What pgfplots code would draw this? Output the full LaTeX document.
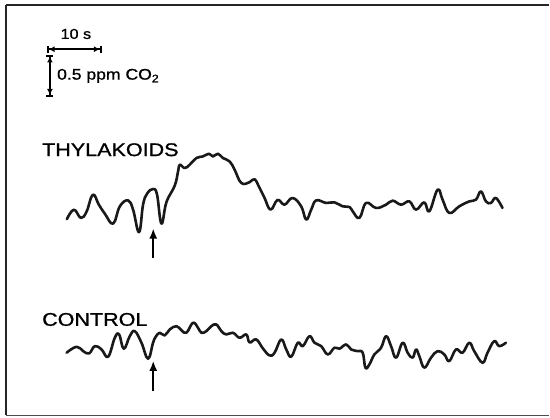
\documentclass[border=0pt]{standalone}
\usepackage{fontspec}
\setmainfont{Liberation Sans}
\newfontfamily\labelfont{Liberation Sans}[BoldFont={Liberation Sans}, BoldFeatures={FakeBold=0.9}]
\usepackage{pgfplots}
\pgfplotsset{compat=1.18}
\usetikzlibrary{arrows.meta}
\begin{document}
\begin{tikzpicture}
\begin{axis}[
  width=544bp, height=411bp, scale only axis,
  xmin=6, xmax=550, ymin=-416, ymax=-5,
  hide axis,
  clip=false,
]
\path (axis cs:0,-418) rectangle (axis cs:550,0);
\draw[line width=1.8bp, black!85] (axis cs:550,-5) -- (axis cs:6,-5);
\draw[line width=1.8bp, black!85] (axis cs:6,-5) -- (axis cs:6,-416);
\draw[line width=1.2bp, black!70] (axis cs:6,-416) -- (axis cs:550,-416);
% THYLAKOIDS
\addplot[no marks, line width=2.6bp, black!90, line join=round, line cap=round, smooth, tension=0.7] coordinates {
(67,-219.5) (74,-210) (81,-218.3) (86.7,-212) (93,-195) (99,-205) (105,-214)
(113.3,-224) (120,-206.7) (128.3,-200.7) (133.3,-210) (139.3,-232.5) (143.3,-205)
(147.3,-194) (153.3,-189.3) (157.3,-195) (161.7,-224) (166.7,-202.5) (175,-186)
(178.3,-172) (180,-165) (185,-168.3) (190,-165) (196.7,-158.3) (203.3,-156.7)
(209.3,-154) (213.3,-156.7) (218.3,-154) (223.3,-158.3) (230,-161.7) (235,-170)
(241.7,-183.3) (250,-182.5) (255,-179.5) (260,-188.3) (265,-198.3) (271,-210)
(278,-200.3) (285,-205) (293,-198.3) (301.7,-206.7) (306.7,-220) (311.7,-210)
(316.7,-200.7) (326.7,-203.3) (335,-202.7) (343.3,-206.7) (350,-207.3) (353.3,-211.7)
(360,-218.3) (366.7,-203.3) (376.7,-208.3) (386.7,-205) (393.3,-201) (401.7,-205)
(410,-201.7) (416.7,-210) (425,-202.7) (430,-211.7) (438.3,-190) (443.3,-200)
(450,-213.3) (460,-206.7) (470,-201.7) (476.7,-200) (481.7,-191.7) (486.7,-201.7)
(491.7,-203.3) (496.7,-198.3) (503.3,-208.3)
};
% CONTROL
\addplot[no marks, line width=2.6bp, black!90, line join=round, line cap=round, smooth, tension=0.7] coordinates {
(66.7,-353.3) (76.7,-347.3) (83.3,-351.7) (89.3,-354) (95,-346.7) (101.7,-350)
(108.3,-357.3) (115,-338.3) (119.3,-335) (124,-349.3) (130,-336.7) (135,-331.7)
(141.7,-343.3) (148.3,-359.3) (153.3,-343.3) (156,-337.3) (160,-333.3) (165,-336)
(170,-330) (176.7,-326.7) (181.7,-330.7) (186.7,-333.3) (193.3,-323.3) (198.3,-328.3)
(201.7,-333.3) (206.7,-331.7) (211.7,-326.7) (216.7,-325) (221.7,-331.7) (226.7,-335)
(233.3,-333.3) (240,-338.3) (246.7,-335) (250,-343) (256.7,-340) (263.3,-349)
(270,-356) (275,-353.3) (281.7,-340) (286.7,-350) (291.7,-357.3) (298.3,-343.3)
(303.3,-346.7) (310,-336.7) (315,-343.3) (321.7,-346.7) (328.3,-355) (335,-348.3)
(340,-349.3) (346.7,-345) (351.7,-350) (358.3,-351.7) (363.3,-353.3) (366,-368.3)
(370,-365) (375,-355) (381.7,-348.3) (386.7,-336.7) (391.7,-346.7) (396.7,-358.3)
(403.3,-343.3) (408.3,-353.3) (413.3,-358.3) (416.7,-350) (420,-356.7) (425,-368.3)
(431.7,-358.3) (438.3,-351.7) (445,-355) (450,-361.7) (456.7,-350) (463.3,-353.3)
(470,-343.3) (475,-351.7) (483.3,-363.3) (488.3,-353.3) (495,-341.7) (500,-346.7)
(506.7,-343.3)
};
% labels
\node[anchor=west, font=\labelfont\bfseries\fontsize{18.5}{20}\selectfont, xscale=1.17, inner sep=0pt] at (axis cs:42,-150) {THYLAKOIDS};
\node[anchor=west, font=\labelfont\bfseries\fontsize{18.5}{20}\selectfont, xscale=1.17, inner sep=0pt] at (axis cs:42,-320) {CONTROL};
\node[font=\labelfont\bfseries\fontsize{14.5}{16}\selectfont, xscale=1.12, inner sep=0pt] at (axis cs:76,-34) {10 s};
\node[anchor=west, font=\labelfont\bfseries\fontsize{15.5}{17}\selectfont, xscale=1.14, inner sep=0pt] at (axis cs:57,-76) {0.5 ppm CO\textsubscript{2}};
% scale bars
\draw[line width=1.6bp, {Bar[width=7bp]Latex[length=6bp,width=6bp]}-{Latex[length=6bp,width=6bp]Bar[width=7bp]}] (axis cs:47,-49.3) -- (axis cs:101.7,-49.3);
\draw[line width=1.6bp, {Bar[width=7bp]Latex[length=6bp,width=6bp]}-{Latex[length=6bp,width=6bp]Bar[width=7bp]}] (axis cs:50,-55) -- (axis cs:50,-96.7);
% arrows
\draw[line width=1.6bp, -{Latex[length=10bp,width=8bp]}] (axis cs:153.5,-258) -- (axis cs:153.5,-229);
\draw[line width=1.6bp, -{Latex[length=10bp,width=8bp]}] (axis cs:153.5,-392) -- (axis cs:153.5,-361.5);
\end{axis}
\end{tikzpicture}
\end{document}
